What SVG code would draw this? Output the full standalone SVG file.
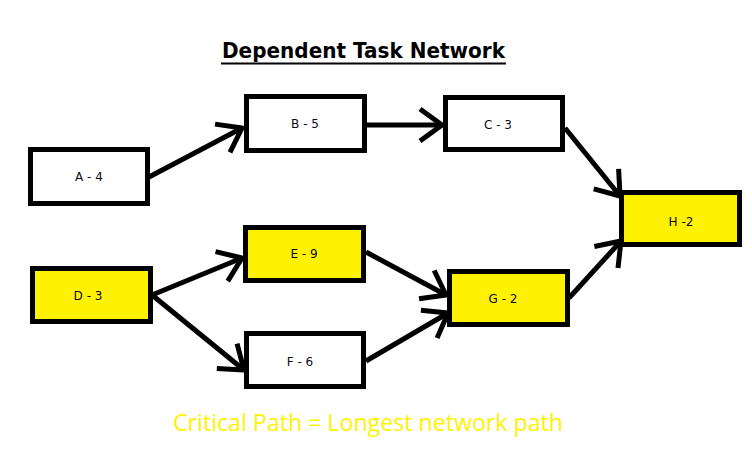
<svg xmlns="http://www.w3.org/2000/svg" width="752" height="460" viewBox="0 0 752 460">
<style>
.box{stroke:#000;stroke-width:5;fill:#fff}
.crit{fill:#fff200}
.lbl{font-family:"DejaVu Sans",sans-serif;font-size:12px;fill:#0a0a1a;text-anchor:middle}
.conn{stroke:#000;stroke-width:5;fill:none;marker-end:url(#arr)}
</style>
<defs>
<marker id="arr" markerUnits="userSpaceOnUse" orient="auto" markerWidth="40" markerHeight="40" refX="0" refY="0" viewBox="-30 -20 40 40" overflow="visible">
<path d="M-22,-16 L0,0 L-22,16" fill="none" stroke="#000" stroke-width="5" stroke-linejoin="round"/>
</marker>
</defs>
<rect width="752" height="460" fill="#fff"/>
<g id="title">
<text x="363.5" y="58" font-family="DejaVu Sans,sans-serif" font-weight="bold" font-size="21.5" text-anchor="middle" textLength="283" lengthAdjust="spacingAndGlyphs">Dependent Task Network</text>
<line x1="221" y1="63.5" x2="506" y2="63.5" stroke="#000" stroke-width="2"/>
</g>
<g id="connectors">
<line class="conn" x1="149" y1="177" x2="242" y2="128"/>
<line class="conn" x1="367" y1="125" x2="442" y2="125"/>
<line class="conn" x1="565" y1="128" x2="620" y2="196"/>
<line class="conn" x1="152" y1="295" x2="242" y2="258"/>
<line class="conn" x1="152" y1="295" x2="244" y2="370"/>
<line class="conn" x1="366" y1="252" x2="446" y2="295"/>
<line class="conn" x1="366" y1="361" x2="448" y2="313"/>
<line class="conn" x1="569" y1="298" x2="621" y2="241"/>
</g>
<g id="A"><rect class="box" x="30.5" y="149.5" width="117" height="54"/><text class="lbl" x="89" y="181">A - 4</text></g>
<g id="B"><rect class="box" x="246.5" y="96.5" width="118" height="54"/><text class="lbl" x="305" y="128">B - 5</text></g>
<g id="C"><rect class="box" x="445.5" y="97.5" width="117" height="52"/><text class="lbl" x="498" y="129">C - 3</text></g>
<g id="D"><rect class="box crit" x="32.5" y="268.5" width="118" height="53"/><text class="lbl" x="88" y="300">D - 3</text></g>
<g id="E"><rect class="box crit" x="245.5" y="227.5" width="118" height="53"/><text class="lbl" x="304" y="258">E - 9</text></g>
<g id="F"><rect class="box" x="246.5" y="333.5" width="117" height="53"/><text class="lbl" x="300" y="366">F - 6</text></g>
<g id="G"><rect class="box crit" x="449.5" y="271.5" width="118" height="53"/><text class="lbl" x="503" y="303">G - 2</text></g>
<g id="H"><rect class="box crit" x="621.5" y="192.5" width="118" height="52"/><text class="lbl" x="681" y="226">H -2</text></g>
<g id="footer">
<text x="368" y="431" font-family="Open Sans,sans-serif" font-size="23" fill="#fff200" text-anchor="middle" textLength="390" lengthAdjust="spacingAndGlyphs">Critical Path = Longest network path</text>
</g>
</svg>
